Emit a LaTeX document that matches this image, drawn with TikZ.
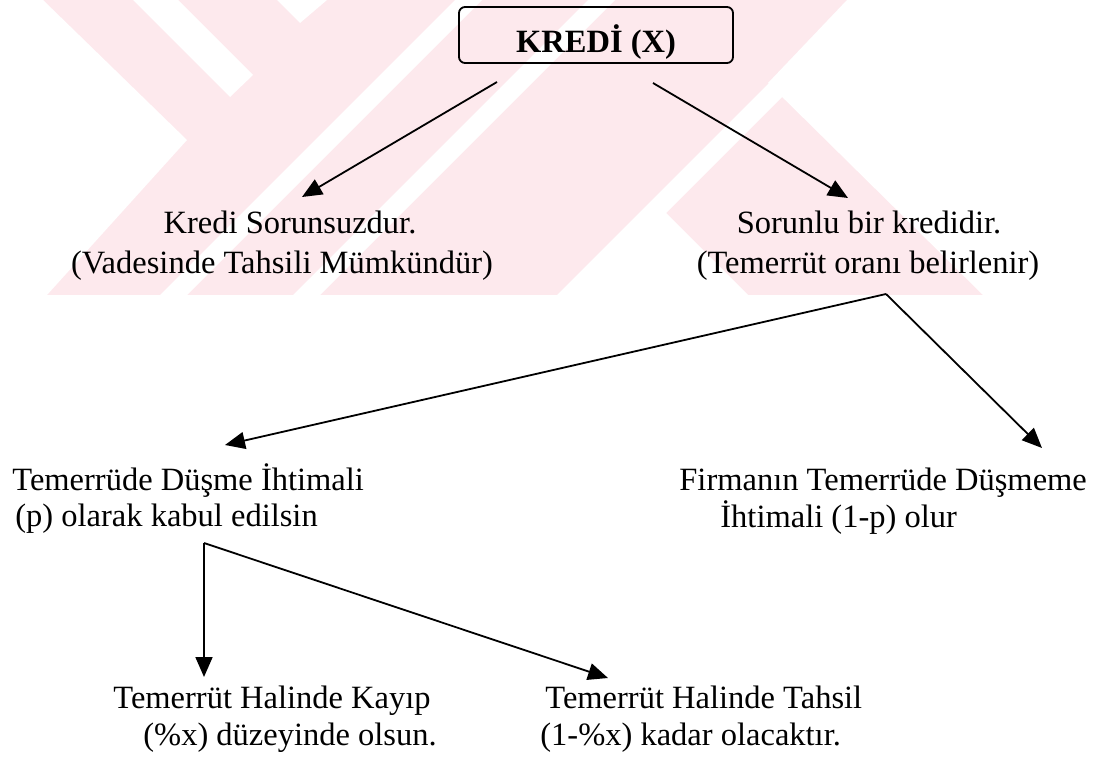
\documentclass[tikz,border=0pt]{standalone}
\usepackage{fontspec}
\setmainfont{Liberation Serif}
\usetikzlibrary{arrows.meta}
\definecolor{wmpink}{RGB}{253,233,237}

\tikzset{
	txt/.style={inner sep=0pt,font=\fontsize{16.25pt}{20pt}\selectfont},
	arr/.style={-{Triangle[length=10pt,width=8.5pt]},line width=0.9pt},
	titlebox/.style={draw,line width=0.9pt,rounded corners=3pt,inner sep=0pt,
		minimum width=137pt,text height=22.5pt,text depth=5.5pt,
		font=\fontsize{16.25pt}{20pt}\selectfont\bfseries},
}

\begin{document}
	\begin{tikzpicture}[x=0.5pt,y=-0.5pt]
		\useasboundingbox (0,0) rectangle (1104,760);
		% watermark in the background
		\begin{scope}
			\clip (0,0) rectangle (983,295);
			\fill[wmpink] (0,0) rectangle (983,295);
			\fill[white] (0,0) -- (43,0) -- (187,140) -- (47,295) -- (0,295) -- cycle;
			\fill[white] (133,0) -- (178,0) -- (253,75) -- (230,97) -- cycle;
			\fill[white] (277,0) -- (327,0) -- (300,23) -- cycle;
			\fill[white] (160,295) -- (187,295) -- (482,0) -- (455,0) -- cycle;
			\fill[white] (293,295) -- (320,295) -- (615,0) -- (588,0) -- cycle;
			\fill[white] (557,295) -- (584,295) -- (879,0) -- (852,0) -- cycle;
			\fill[white] (558,295) -- (653,200) -- (748,295) -- cycle;
			\fill[white] (847,0) -- (1104,0) -- (1104,295) -- (983,295) -- (768,83) -- cycle;
		\end{scope}

		\node[titlebox,anchor=base] (kredi) at (596,52) {KREDİ (X)};

		\node[txt,anchor=base] (ok1) at (290,233) {Kredi Sorunsuzdur.};
		\node[txt,anchor=base] (ok2) at (282,273) {(Vadesinde Tahsili Mümkündür)};
		\node[txt,anchor=base] (bad1) at (869,233) {Sorunlu bir kredidir.};
		\node[txt,anchor=base] (bad2) at (868,273) {(Temerrüt oranı belirlenir)};

		\node[txt,anchor=base west] (pd1) at (12,490) {Temerrüde Düşme İhtimali};
		\node[txt,anchor=base west] (pd2) at (15,526) {(p) olarak kabul edilsin};
		\node[txt,anchor=base west] (npd1) at (679,490) {Firmanın Temerrüde Düşmeme};
		\node[txt,anchor=base west] (npd2) at (720,527) {İhtimali (1-p) olur};

		\node[txt,anchor=base west] (loss1) at (113,708) {Temerrüt Halinde Kayıp};
		\node[txt,anchor=base west] (loss2) at (143,745) {(\%x) düzeyinde olsun.};
		\node[txt,anchor=base west] (rec1) at (545,708) {Temerrüt Halinde Tahsil};
		\node[txt,anchor=base west] (rec2) at (540,745) {(1-\%x) kadar olacaktır.};

		% connector ends
		\coordinate (kl) at (497,82);
		\coordinate (kr) at (653,83);
		\coordinate (okin) at (302,197);
		\coordinate (badin) at (848,198);
		\coordinate (split1) at (886,294);
		\coordinate (pdin) at (225,445);
		\coordinate (npdin) at (1042,448);
		\coordinate (split2) at (204,543);
		\coordinate (lossin) at (204,677);
		\coordinate (recin) at (608,678);

		\draw[arr] (kl) -- (okin);%sorunsuz
		\draw[arr] (kr) -- (badin);%sorunlu
		\draw[arr] (split1) -- (pdin);
		\draw[arr] (split1) -- (npdin);
		\draw[arr] (split2) -- (lossin);
		\draw[arr] (split2) -- (recin);
	\end{tikzpicture}
\end{document}
